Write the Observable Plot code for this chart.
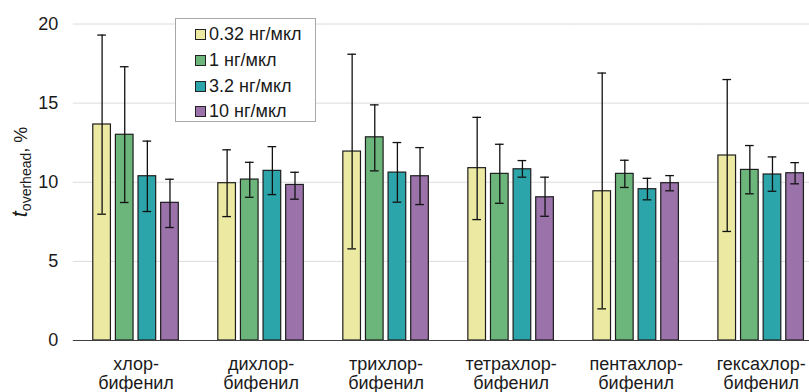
<!DOCTYPE html>
<html>
<head>
<meta charset="utf-8">
<script src="https://cdn.jsdelivr.net/npm/d3@7"></script>
<script src="https://cdn.jsdelivr.net/npm/@observablehq/plot@0.6"></script>
<style>
  html, body { margin: 0; padding: 0; background: #fff; }
  #wrap { position: relative; width: 809px; height: 392px; font-family: "Liberation Sans", Arial, sans-serif; }
  #legend { position: absolute; left: 175px; top: 18px; width: 141px; height: 104px; border: 1px solid #a8a8a8; background: #fff; box-sizing: border-box; }
  .item { position: absolute; left: 19px; height: 20px; display: flex; align-items: center; font-size: 18px; color: #1a1a1a; white-space: nowrap; }
  .sw { width: 11px; height: 11px; border: 1px solid #222; margin-right: 3px; box-sizing: border-box; }
</style>
</head>
<body>
<div id="wrap"><div id="chart"></div><div id="legend"></div></div>
<script>
const groups = ["хлор-\nбифенил", "дихлор-\nбифенил", "трихлор-\nбифенил", "тетрахлор-\nбифенил", "пентахлор-\nбифенил", "гексахлор-\nбифенил"];
const series = ["0.32 нг/мкл", "1 нг/мкл", "3.2 нг/мкл", "10 нг/мкл"];
const colors = ["#ebe9a2", "#6cb57b", "#2ca5aa", "#9b73aa"];
const yTicks = [0, 5, 10, 15, 20];

const v032 = [13.65, 9.94, 11.94, 10.89, 9.43, 11.69];
const hi032 = [19.3, 12.05, 18.09, 14.1, 16.9, 16.49];
const lo032 = [7.98, 7.83, 5.79, 7.64, 2.0, 6.89];
const v1 = [13.0, 10.17, 12.84, 10.53, 10.53, 10.78];
const hi1 = [17.3, 11.26, 14.89, 12.4, 11.39, 12.32];
const lo1 = [8.72, 9.05, 10.72, 8.67, 9.67, 9.27];
const v32 = [10.38, 10.72, 10.61, 10.82, 9.56, 10.49];
const hi32 = [12.6, 12.25, 12.51, 11.37, 10.25, 11.6];
const lo32 = [8.15, 9.22, 8.74, 10.32, 8.89, 9.43];
const v10 = [8.7, 9.83, 10.38, 9.05, 9.94, 10.57];
const hi10 = [10.19, 10.63, 12.19, 10.32, 10.42, 11.24];
const lo10 = [7.14, 8.93, 8.59, 7.85, 9.46, 9.9];

const vals = [v032, v1, v32, v10];
const his = [hi032, hi1, hi32, hi10];
const los = [lo032, lo1, lo32, lo10];

const data = [];
series.forEach((s, si) => groups.forEach((g, gi) => {
  data.push({group: g, series: s, value: vals[si][gi], lo: los[si][gi], hi: his[si][gi]});
}));
const tickRows = yTicks.map(v => ({v, group: groups[0]}));

const chart = Plot.plot({
  width: 809,
  height: 392,
  marginLeft: 74,
  marginRight: 0,
  marginTop: 23.5,
  marginBottom: 52,
  style: {fontFamily: "'Liberation Sans', Arial, sans-serif", fontSize: "18px", background: "#fff", color: "#1a1a1a"},
  fx: {domain: groups, range: [73.4, 822.8], paddingInner: 0.316, paddingOuter: 0.155, round: false, axis: null, label: null},
  x: {domain: series, paddingInner: 0.22, paddingOuter: 0, round: false, axis: null},
  y: {domain: [0, 20], axis: null},
  color: {domain: series, range: colors},
  marks: [
    Plot.ruleY(yTicks.slice(1), {stroke: "#dcdcdc", strokeWidth: 1, insetLeft: -20, insetRight: -20}),
    Plot.text(tickRows, {fx: "group", y: "v", text: d => String(d.v), frameAnchor: "left", textAnchor: "end", dx: -35, fontSize: 18}),
    Plot.barY(data, {fx: "group", x: "series", y: "value", fill: "series", stroke: "#1e1e1e", strokeWidth: 1.2}),
    Plot.ruleX(data, {fx: "group", x: "series", y1: "lo", y2: "hi", stroke: "#111", strokeWidth: 1.3}),
    Plot.tickY(data, {fx: "group", x: "series", y: "lo", stroke: "#111", strokeWidth: 1.3, insetLeft: 4.5, insetRight: 4.5}),
    Plot.tickY(data, {fx: "group", x: "series", y: "hi", stroke: "#111", strokeWidth: 1.3, insetLeft: 4.5, insetRight: 4.5}),
    Plot.ruleY([0], {stroke: "#404040", strokeWidth: 1.2, insetLeft: -20, insetRight: -20}),
    Plot.axisFx({anchor: "bottom", tickSize: 0, tickPadding: 15.5, fontSize: 18, lineHeight: 1.08, label: null})
  ]
});
document.getElementById("chart").appendChild(chart);

// y-axis title with italic t and subscript
const svg = d3.select(chart);
const t = svg.append("text")
  .attr("transform", "translate(27,172) rotate(-90)")
  .attr("text-anchor", "middle")
  .attr("fill", "#1a1a1a")
  .attr("font-family", "'Liberation Sans', Arial, sans-serif");
t.append("tspan").attr("font-style", "italic").attr("font-size", 22).text("t");
t.append("tspan").attr("font-size", 14).attr("dy", 4).text("overhead");
t.append("tspan").attr("font-size", 18).attr("dy", -4).text(", %");

// legend
const legend = document.getElementById("legend");
const rowY = [5, 31, 57, 82];
series.forEach((s, i) => {
  const item = document.createElement("div");
  item.className = "item";
  item.style.top = rowY[i] + "px";
  const sw = document.createElement("span");
  sw.className = "sw";
  sw.style.background = colors[i];
  item.appendChild(sw);
  const lab = document.createElement("span");
  lab.textContent = s;
  item.appendChild(lab);
  legend.appendChild(item);
});
</script>
</body>
</html>
